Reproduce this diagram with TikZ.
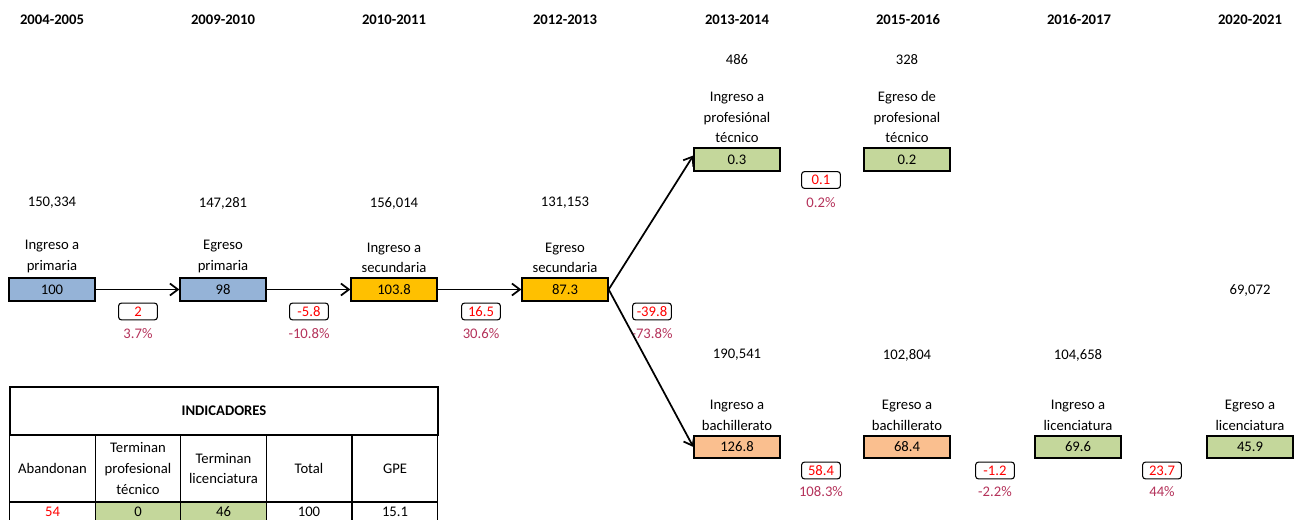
\documentclass[tikz,border=0pt]{standalone}
\usepackage{fontspec}
\setmainfont{Carlito}
\usetikzlibrary{positioning,arrows.meta}
\definecolor{barblue}{RGB}{149,179,215}
\definecolor{baryellow}{RGB}{255,192,0}
\definecolor{bargreen}{RGB}{196,215,155}
\definecolor{barorange}{RGB}{250,191,143}
\definecolor{pctred}{RGB}{180,50,90}
\tikzset{
    every node/.style={
        font=\fontsize{11}{15.5}\selectfont
    },
    bar/.style={
        shape=rectangle,
        draw,
        line width=1.5pt,
        minimum width=64pt,
        minimum height=17pt,
        inner sep=0pt
    },
    lbl/.style={
        align=center,
        inner sep=3pt
    },
    diff/.style={
        shape=rectangle,
        draw,
        rounded corners=2pt,
        line width=0.8pt,
        text=red,
        minimum width=29pt,
        minimum height=12.5pt,
        inner sep=0pt
    },
    pct/.style={
        text=pctred
    },
    flow/.style={
        line width=1.3pt,
        -{Straight Barb[length=6pt,width=9pt]}
    }
}
\tikzstyle{cell} = [rectangle, draw, line width=1pt, align=center, inner sep=0pt, minimum width=64.2pt]

\begin{document}
\begin{tikzpicture}[
            x=0.75pt, y=-0.75pt,
            year/.style={font=\fontsize{11}{13}\selectfont\bfseries},
            total/.style={anchor=center}
            ]
            \useasboundingbox (0,0) rectangle (1296,520);

            \node (y1) at (52, 20) [year] {2004-2005};
            \node (y2) at (223, 20) [year] {2009-2010};
            \node (y3) at (394, 20) [year] {2010-2011};
            \node (y4) at (565, 20) [year] {2012-2013};
            \node (y5) at (737, 20) [year] {2013-2014};
            \node (y6) at (908, 20) [year] {2015-2016};
            \node (y7) at (1079, 20) [year] {2016-2017};
            \node (y8) at (1250, 20) [year] {2020-2021};

            % basica
            \node (pri1) at (52, 289.5) [bar, fill=barblue] {100};
            \node (pri2) at (223, 289.5) [bar, fill=barblue] {98};
            \node (sec1) at (394, 289.5) [bar, fill=baryellow] {103.8};
            \node (sec2) at (565, 289.5) [bar, fill=baryellow] {87.3};
            \node (pri1l) [lbl, above=0pt of pri1] {Ingreso a\\primaria};
            \node (pri2l) [lbl, above=0pt of pri2] {Egreso\\primaria};
            \node (sec1l) [lbl, above=0pt of sec1] {Ingreso a\\secundaria};
            \node (sec2l) [lbl, above=0pt of sec2] {Egreso\\secundaria};
            \node (pri1n) at (52, 203) [total] {150,334};
            \node (pri2n) at (223, 203) [total] {147,281};
            \node (sec1n) at (394, 203) [total] {156,014};
            \node (sec2n) at (565, 203) [total] {131,153};

            % profesional tecnico
            \node (pt1) at (737, 159.5) [bar, fill=bargreen] {0.3};
            \node (pt2) at (907, 159.5) [bar, fill=bargreen] {0.2};
            \node (pt1l) [lbl, above=0pt of pt1] {Ingreso a\\profesiónal\\técnico};
            \node (pt2l) [lbl, above=0pt of pt2] {Egreso de\\profesional\\técnico};
            \node (pt1n) at (737, 60) [total] {486};
            \node (pt2n) at (907, 60) [total] {328};

            % bachillerato y licenciatura
            \node (bac1) at (737, 447) [bar, fill=barorange] {126.8};
            \node (bac2) at (907, 447) [bar, fill=barorange] {68.4};
            \node (lic1) at (1078, 447) [bar, fill=bargreen] {69.6};
            \node (lic2) at (1250, 447) [bar, fill=bargreen] {45.9};
            \node (bac1l) [lbl, above=0pt of bac1] {Ingreso a\\bachillerato};
            \node (bac2l) [lbl, above=0pt of bac2] {Egreso a\\bachillerato};
            \node (lic1l) [lbl, above=0pt of lic1] {Ingreso a\\licenciatura};
            \node (lic2l) [lbl, above=0pt of lic2] {Egreso a\\licenciatura};
            \node (bac1n) at (737, 355) [total] {190,541};
            \node (bac2n) at (907, 355) [total] {102,804};
            \node (lic1n) at (1078, 355) [total] {104,658};
            \node (lic2n) at (1250, 290) [total] {69,072};

            % diferencias
            \node (d1) at (138, 311.5) [diff] {2};
            \node (d2) at (309, 311.5) [diff] {-5.8};
            \node (d3) at (481, 311.5) [diff] {16.5};
            \node (d4) at (652, 311.5) [diff] {-39.8};
            \node (d5) at (821, 180) [diff] {0.1};
            \node (d6) at (821, 470.5) [diff] {58.4};
            \node (d7) at (995, 470.5) [diff] {-1.2};
            \node (d8) at (1162, 470.5) [diff] {23.7};
            \node (p1) at (138, 334) [pct] {3.7\%};
            \node (p2) at (309, 334) [pct] {-10.8\%};
            \node (p3) at (481, 334) [pct] {30.6\%};
            \node (p4) at (652, 334) [pct] {-73.8\%};
            \node (p5) at (821, 203) [pct] {0.2\%};
            \node (p6) at (821, 492) [pct] {108.3\%};
            \node (p7) at (995, 492) [pct] {-2.2\%};
            \node (p8) at (1162, 492) [pct] {44\%};

            \draw [flow] (pri1) -- (pri2);
            \draw [flow] (pri2) -- (sec1);
            \draw [flow] (sec1) -- (sec2);
            \draw [flow] (sec2.east) -- ([yshift=3pt]pt1.west);
            \draw [flow] (sec2.east) -- (bac1.west);

            % tabla de indicadores
            \node (ind) at (224, 411) [cell, minimum width=321pt, minimum height=36pt, font=\fontsize{11}{13}\selectfont\bfseries] {INDICADORES};
            \node (hd1) at (52.5, 468.5) [cell, minimum height=50pt] {Abandonan};
            \node (hd2) at (138, 468.5) [cell, minimum height=50pt] {Terminan\\profesional\\técnico};
            \node (hd3) at (223.5, 468.5) [cell, minimum height=50pt] {Terminan\\licenciatura};
            \node (hd4) at (309, 468.5) [cell, minimum height=50pt] {Total};
            \node (hd5) at (395, 468.5) [cell, minimum height=50pt] {GPE};
            \node (vl1) at (52.5, 512) [cell, minimum height=15pt, text=red] {54};
            \node (vl2) at (138, 512) [cell, minimum height=15pt, fill=bargreen] {0};
            \node (vl3) at (223.5, 512) [cell, minimum height=15pt, fill=bargreen] {46};
            \node (vl4) at (309, 512) [cell, minimum height=15pt] {100};
            \node (vl5) at (395, 512) [cell, minimum height=15pt] {15.1};
        \end{tikzpicture}
\end{document}
